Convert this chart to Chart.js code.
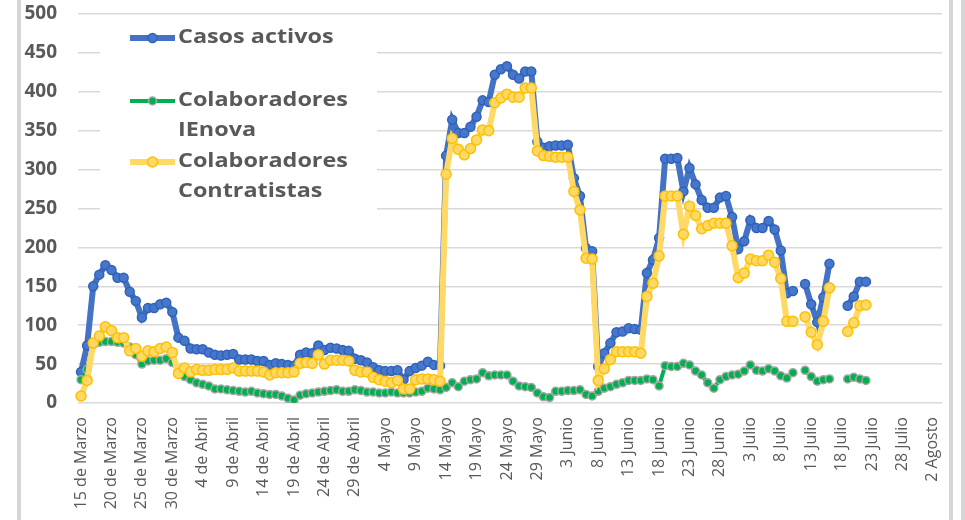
<!DOCTYPE html>
<html>
<head>
<meta charset="utf-8">
<script src="https://cdn.jsdelivr.net/npm/chart.js@4"></script>
<style>
  body { margin: 0; background: #fff; }
  #wrap { position: relative; width: 965px; height: 520px; overflow: hidden; }
  .barra { position: absolute; top: 0; height: 520px; background: #d6d6d6; }
</style>
</head>
<body>
<div id="wrap">
  <canvas id="grafica" width="965" height="520"></canvas>
  <div class="barra" style="left:17px;width:4px"></div>
  <div class="barra" style="left:949px;width:4px"></div>
  <div class="barra" style="left:961px;width:4px"></div>
</div>
<script>
// etiquetas del eje x (una cada 5 dias)
const tickLabels = [
  '15 de Marzo', '20 de Marzo', '25 de Marzo', '30 de Marzo',
  '4 de Abril', '9 de Abril', '14 de Abril', '19 de Abril', '24 de Abril', '29 de Abril',
  '4 Mayo', '9 Mayo', '14 Mayo', '19 Mayo', '24 Mayo', '29 Mayo',
  '3 Junio', '8 Junio', '13 Junio', '18 Junio', '23 Junio', '28 Junio',
  '3 Julio', '8 Julio', '13 Julio', '18 Julio', '23 Julio', '28 Julio',
  '2 Agosto'
];

// meses del periodo: [nombre, primer dia, ultimo dia]
const meses = [['Marzo', 15, 31], ['Abril', 1, 30], ['Mayo', 1, 31], ['Junio', 1, 30], ['Julio', 1, 31], ['Agosto', 1, 3]];

const casosActivos = [
  40, 74, 150, 165, 177, 171, 161, 161, 143, 131,
  110, 122, 122, 127, 129, 117, 84, 80, 70, 69,
  69, 65, 62, 61, 62, 63, 56, 56, 56, 54,
  54, 49, 51, 50, 49, 48, 62, 65, 64, 74,
  68, 71, 70, 68, 67, 57, 55, 52, 46, 42,
  41, 41, 42, 30, 41, 45, 48, 53, 49, 48,
  318, 364, 347, 347, 355, 368, 389, 387, 422, 429,
  433, 422, 417, 426, 426, 336, 328, 330, 331, 331,
  332, 289, 266, 199, 195, 47, 64, 77, 91, 92,
  96, 95, 94, 167, 184, 212, 314, 314, 315, 272,
  302, 281, 261, 251, 251, 264, 266, 239, 198, 208,
  235, 225, 225, 234, 223, 196, 141, 144, null, 153,
  127, 104, 136, 179, null, null, 125, 137, 156, 156
];

const colabIEnova = [
  30, 43, 75, 78, 79, 79, 78, 77, 72, 62,
  50, 54, 55, 55, 57, 52, 42, 34, 30, 26,
  24, 22, 18, 18, 17, 16, 15, 14, 15, 13,
  12, 11, 11, 9, 6, 4, 10, 12, 13, 14,
  15, 16, 17, 15, 15, 17, 16, 14, 14, 13,
  13, 14, 13, 13, 13, 14, 15, 19, 18, 17,
  20, 26, 21, 28, 30, 31, 39, 35, 36, 36,
  36, 28, 22, 21, 20, 13, 8, 7, 15, 15,
  16, 16, 17, 11, 9, 15, 19, 21, 24, 26,
  29, 29, 29, 31, 30, 22, 48, 47, 47, 51,
  49, 41, 36, 26, 19, 30, 34, 36, 37, 41,
  49, 42, 41, 44, 41, 35, 32, 39, null, 42,
  34, 28, 30, 31, null, null, 31, 33, 31, 29
];

const colabContratistas = [
  9, 29, 77, 86, 98, 93, 84, 84, 67, 70,
  60, 67, 66, 70, 72, 65, 38, 45, 40, 43,
  42, 42, 43, 43, 43, 45, 41, 41, 41, 41,
  40, 36, 39, 39, 39, 40, 51, 52, 51, 62,
  50, 55, 55, 55, 54, 42, 40, 40, 33, 30,
  28, 26, 29, 18, 18, 30, 31, 31, 30, 28,
  294, 340, 326, 319, 327, 338, 351, 350, 386, 392,
  397, 393, 393, 405, 405, 324, 318, 317, 316, 316,
  316, 272, 248, 186, 185, 29, 44, 56, 66, 66,
  66, 66, 64, 137, 154, 189, 266, 266, 266, 217,
  253, 241, 224, 228, 231, 231, 231, 202, 161, 167,
  185, 183, 183, 190, 181, 160, 105, 105, null, 111,
  91, 75, 105, 148, null, null, 92, 103, 125, 126
];

// un dia por categoria
const dias = [];
meses.forEach(([mes, ini, fin]) => {
  for (let d = ini; d <= fin; d++) dias.push(d + ' ' + mes);
});

const gris = '#595959';

// leyenda dentro del area de la grafica, con fondo blanco
const leyenda = {
  id: 'leyenda',
  beforeDatasetsDraw(chart) {
    const c = chart.ctx;
    c.save();
    c.fillStyle = '#fff';
    c.fillRect(100, 20, 277, 196);
    const items = [
      { ds: 2, y: 38, texto: ['Casos activos'] },
      { ds: 1, y: 101, texto: ['Colaboradores', 'IEnova'] },
      { ds: 0, y: 162, texto: ['Colaboradores', 'Contratistas'] }
    ];
    items.forEach(it => {
      const d = chart.data.datasets[it.ds];
      c.strokeStyle = d.borderColor;
      c.lineWidth = d.borderWidth;
      c.beginPath();
      c.moveTo(130, it.y);
      c.lineTo(175, it.y);
      c.stroke();
      c.beginPath();
      c.arc(152.5, it.y, d.pointRadius, 0, Math.PI * 2);
      c.fillStyle = d.pointBackgroundColor;
      c.fill();
      c.lineWidth = d.pointBorderWidth;
      c.strokeStyle = d.pointBorderColor;
      c.stroke();
      c.fillStyle = gris;
      c.font = 'bold 19px "Open Sans"';
      c.textBaseline = 'middle';
      it.texto.forEach((t, k) => {
        c.save();
        c.translate(178, it.y + k * 30);
        c.scale(1.23, 1);
        c.fillText(t, 0, 0);
        c.restore();
      });
    });
    c.restore();
  }
};

new Chart(document.getElementById('grafica'), {
  type: 'line',
  data: {
    labels: dias,
    datasets: [
      {
        label: 'Colaboradores Contratistas',
        data: colabContratistas,
        borderColor: '#FFD966',
        borderWidth: 6,
        pointRadius: 5,
        pointBackgroundColor: '#FFD966',
        pointBorderColor: '#FFC000',
        pointBorderWidth: 1.5
      },
      {
        label: 'Colaboradores IEnova',
        data: colabIEnova,
        borderColor: '#00B050',
        borderWidth: 4,
        pointRadius: 4,
        pointBackgroundColor: '#00B050',
        pointBorderColor: '#A6A6A6',
        pointBorderWidth: 1.5
      },
      {
        label: 'Casos activos',
        data: casosActivos,
        borderColor: '#4472C4',
        borderWidth: 6,
        pointRadius: 4.5,
        pointBackgroundColor: '#4677CC',
        pointBorderColor: '#2F62B8',
        pointBorderWidth: 1.5
      }
    ]
  },
  options: {
    responsive: false,
    animation: false,
    layout: { padding: { top: 0, right: 23, bottom: 0, left: 0 } },
    plugins: {
      legend: { display: false },
      tooltip: { enabled: false }
    },
    scales: {
      x: {
        offset: true,
        grid: { display: false },
        border: { display: false },
        afterFit: s => { s.height = 117; },
        ticks: {
          autoSkip: false,
          minRotation: 90,
          maxRotation: 90,
          padding: 6,
          color: gris,
          font: { family: 'Open Sans', size: 16 },
          callback: (v, i) => (i % 5 === 0 ? tickLabels[i / 5] || '' : '')
        }
      },
      y: {
        min: 0,
        max: 500,
        border: { display: false },
        grid: { color: '#d9d9d9', lineWidth: 1.5, drawTicks: false },
        afterFit: s => { s.width = 78; s.paddingTop = 14; s.paddingBottom = 0; },
        ticks: {
          stepSize: 50,
          padding: 21,
          color: gris,
          font: { family: 'Open Sans', size: 19, weight: 'bold' }
        }
      }
    }
  },
  plugins: [leyenda]
});
</script>
</body>
</html>
